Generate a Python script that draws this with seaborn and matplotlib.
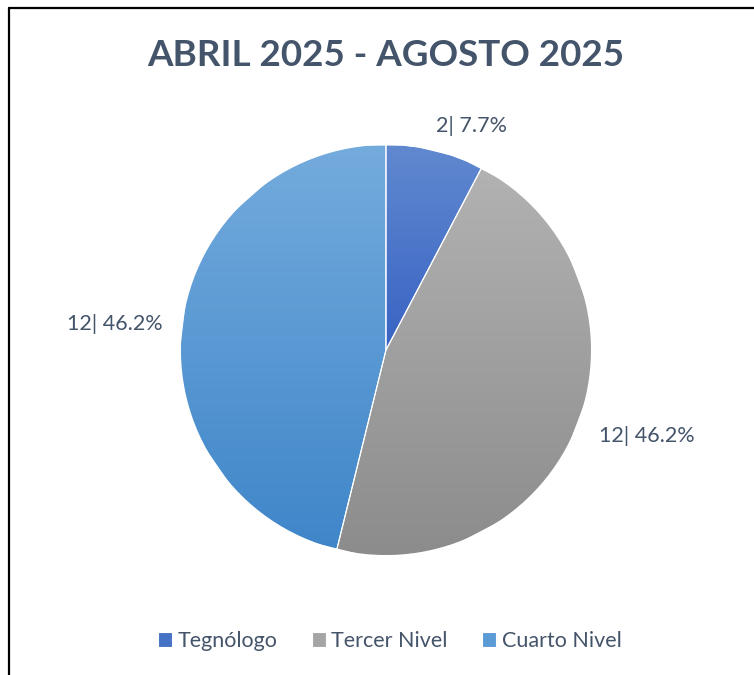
"""Pie chart: distribución por nivel académico, abril - agosto 2025."""

import matplotlib
matplotlib.use("Agg")
import matplotlib.pyplot as plt
import numpy as np
import seaborn as sns
from matplotlib.colors import LinearSegmentedColormap
from matplotlib.lines import Line2D

categories = ["Tegnólogo", "Tercer Nivel", "Cuarto Nivel"]
counts = [2, 12, 12]
title = "ABRIL 2025 - AGOSTO 2025"

# gradient (top, bottom) per slice, like the Excel fill
top_colors = ["#6189D0", "#B2B2B2", "#74ABDD"]
bottom_colors = ["#3863C3", "#8C8C8C", "#3F86C9"]
base_colors = ["#4472C4", "#A5A5A5", "#5B9BD5"]
TEXT = "#44546A"

sns.set_theme(style="white")
plt.rcParams["font.family"] = ["Lato", "DejaVu Sans"]

fig = plt.figure(figsize=(7.54, 6.75), dpi=100)
ax = fig.add_axes([0.1041, 0.0259, 0.8156, 0.9111])

wedges, _ = ax.pie(counts, startangle=90, counterclock=False, radius=1.0,
                   colors=base_colors,
                   wedgeprops={"edgecolor": "white", "linewidth": 0.8})

# gradient fill clipped to each wedge
for w, c_top, c_bot in zip(wedges, top_colors, bottom_colors):
    bb = w.get_path().get_extents()
    cmap = LinearSegmentedColormap.from_list("g", [c_bot, c_top])
    grad = np.linspace(0, 1, 256).reshape(-1, 1)
    im = ax.imshow(grad, extent=[bb.x0, bb.x1, bb.y0, bb.y1], origin="lower",
                   cmap=cmap, aspect="auto", zorder=w.get_zorder() + 0.1,
                   interpolation="bicubic")
    im.set_clip_path(w)

# thin white separators on top
for w in wedges:
    ax.add_patch(plt.Polygon(w.get_path().vertices, closed=True, fill=False,
                             edgecolor="white", linewidth=0.8, zorder=5))

ax.set_xlim(-1.5, 1.5)
ax.set_ylim(-1.5, 1.5)
ax.set_aspect("equal")
ax.axis("off")

# data labels outside end
total = sum(counts)
label_dist = [1.17, 1.34, 1.33]
angle_shift = [-7, 2.5, 1.5]
for w, c, d, s in zip(wedges, counts, label_dist, angle_shift):
    mid = np.deg2rad((w.theta1 + w.theta2) / 2 + s)
    ax.text(d * np.cos(mid), d * np.sin(mid), f"{c}| {100 * c / total:.1f}%",
            ha="center", va="center", fontsize=15.5, color=TEXT)

fig.text(0.512, 0.918, title, ha="center", va="center", fontsize=26.5,
         fontweight="bold", color=TEXT)

fig.legend(wedges, categories, loc="center", bbox_to_anchor=(0.517, 0.0504),
           ncol=3, frameon=False, fontsize=15.5, labelcolor=TEXT,
           handlelength=0.65, handleheight=0.65, handletextpad=0.25,
           columnspacing=1.6)

# chart border (cropped on right and bottom)
fig.add_artist(Line2D([8.5 / 754, 8.5 / 754], [0, 1 - 7.5 / 675],
                      color="black", linewidth=1.6))
fig.add_artist(Line2D([8.5 / 754, 1], [1 - 7.5 / 675, 1 - 7.5 / 675],
                      color="black", linewidth=1.6))

fig.savefig("out.png", dpi=100)
plt.close(fig)
